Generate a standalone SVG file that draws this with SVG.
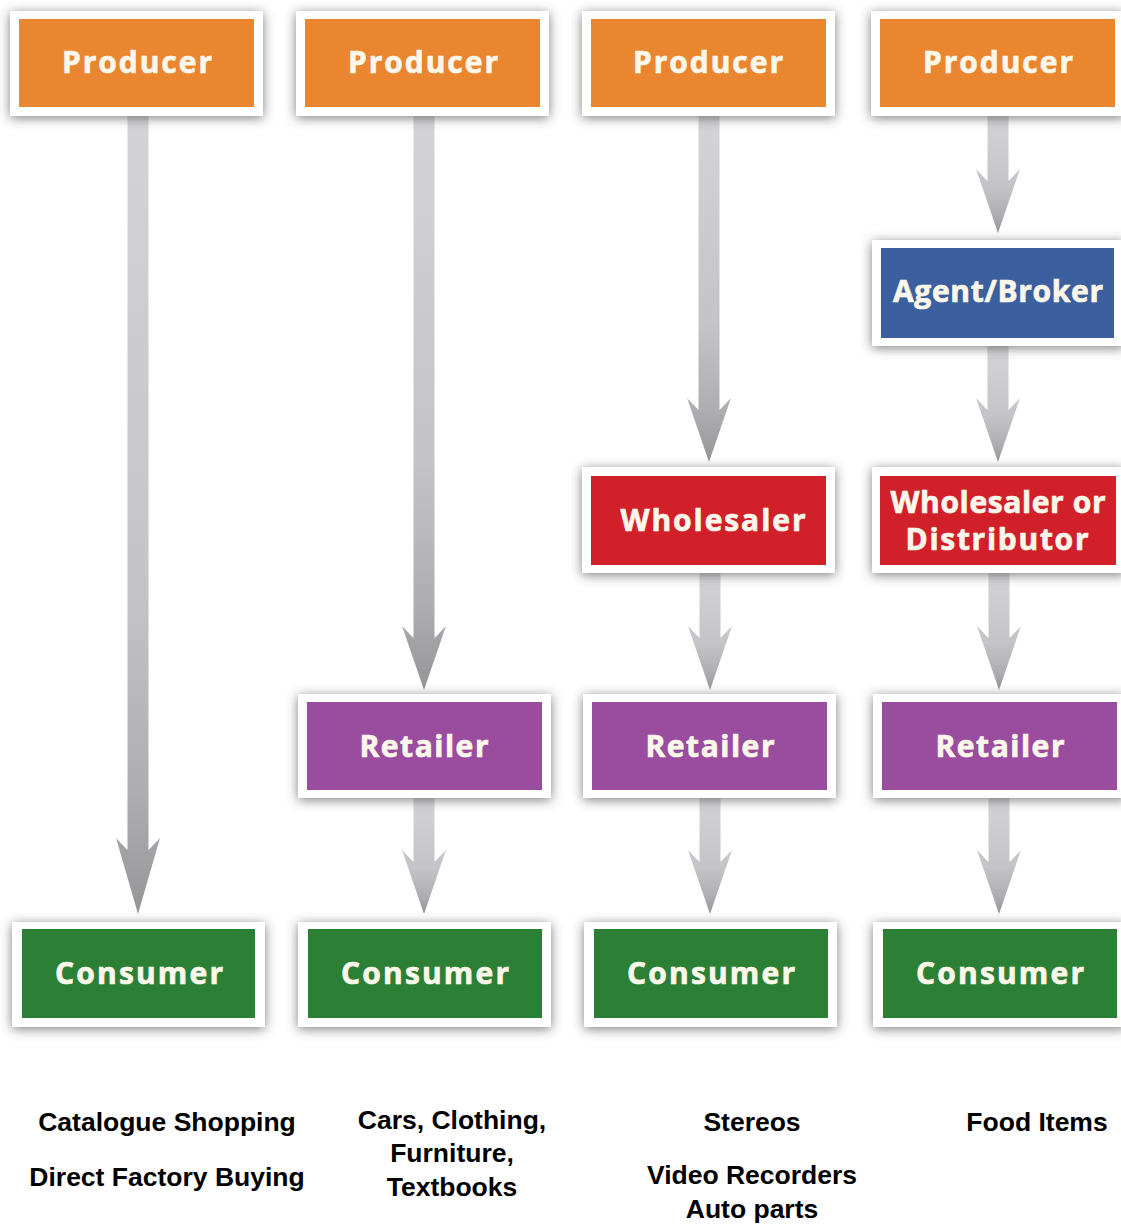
<svg xmlns="http://www.w3.org/2000/svg" width="1121" height="1228" viewBox="0 0 1121 1228">
<style>
.frame{fill:#ffffff;filter:url(#sh);}
.lbl{font-family:"Open Sans","Noto Sans","Liberation Sans",sans-serif;font-weight:bold;font-size:30px;fill:#FBF7EA;stroke:#FBF7EA;stroke-width:0.7px;text-anchor:middle;}
.note{font-family:"Liberation Sans",Arial,sans-serif;font-weight:bold;font-size:26.5px;fill:#000;text-anchor:middle;}
.arr{fill:url(#ag);}
.prod{fill:#EA8530;}
.agent{fill:#3B5F9F;}
.whole{fill:#D2202A;}
.ret{fill:#9A4D9F;}
.cons{fill:#2B8035;}
</style>
<defs>
<filter id="sh" x="-10%" y="-25%" width="120%" height="150%">
<feDropShadow dx="0" dy="2" stdDeviation="6" flood-color="#454545" flood-opacity="0.7"/>
</filter>
<linearGradient id="ag" x1="0" y1="0" x2="0" y2="1">
<stop offset="0" stop-color="#d4d4d8"/>
<stop offset="0.6" stop-color="#c4c4c8"/>
<stop offset="0.85" stop-color="#aeaeb2"/>
<stop offset="1" stop-color="#959598"/>
</linearGradient>
</defs>
<rect width="1121" height="1228" fill="#ffffff"/>
<g id="connectors">
<path class="arr" d="M127.5 116 V850 L116 838 L138 914 L160 838 L148.5 850 V116 Z"/>
<path class="arr" d="M413.5 116 V638 L402 626 L424 690 L446 626 L434.5 638 V116 Z"/>
<path class="arr" d="M413.5 798 V862 L402 850 L424 914 L446 850 L434.5 862 V798 Z"/>
<path class="arr" d="M698.5 116 V410 L687 398 L709 462 L731 398 L719.5 410 V116 Z"/>
<path class="arr" d="M699.5 573 V638 L688 626 L710 690 L732 626 L720.5 638 V573 Z"/>
<path class="arr" d="M699.5 798 V862 L688 850 L710 914 L732 850 L720.5 862 V798 Z"/>
<path class="arr" d="M987.5 116 V181 L976 169 L998 233 L1020 169 L1008.5 181 V116 Z"/>
<path class="arr" d="M987.5 346 V410 L976 398 L998 462 L1020 398 L1008.5 410 V346 Z"/>
<path class="arr" d="M988.5 573 V638 L977 626 L999 690 L1021 626 L1009.5 638 V573 Z"/>
<path class="arr" d="M988.5 798 V862 L977 850 L999 914 L1021 850 L1009.5 862 V798 Z"/>
</g>
<g id="producer1"><rect class="frame" x="10" y="11" width="253" height="105"/><rect class="prod" x="19" y="19" width="235" height="88"/><text class="lbl" x="137" y="73" textLength="150" lengthAdjust="spacing">Producer</text></g>
<g id="producer2"><rect class="frame" x="296" y="11" width="253" height="105"/><rect class="prod" x="305" y="19" width="235" height="88"/><text class="lbl" x="423" y="73" textLength="150" lengthAdjust="spacing">Producer</text></g>
<g id="producer3"><rect class="frame" x="582" y="11" width="253" height="105"/><rect class="prod" x="591" y="19" width="235" height="88"/><text class="lbl" x="708" y="73" textLength="150" lengthAdjust="spacing">Producer</text></g>
<g id="producer4"><rect class="frame" x="871" y="11" width="253" height="105"/><rect class="prod" x="880" y="19" width="235" height="88"/><text class="lbl" x="998" y="73" textLength="150" lengthAdjust="spacing">Producer</text></g>
<g id="agent4"><rect class="frame" x="872" y="240" width="253" height="106"/><rect class="agent" x="881" y="248" width="233" height="90"/><text class="lbl" x="998" y="302" textLength="210" lengthAdjust="spacing">Agent/Broker</text></g>
<g id="wholesaler3"><rect class="frame" x="582" y="467" width="253" height="106"/><rect class="whole" x="591" y="476" width="235" height="89"/><text class="lbl" x="713" y="531" textLength="185" lengthAdjust="spacing">Wholesaler</text></g>
<g id="wholesaler4"><rect class="frame" x="872" y="467" width="253" height="106"/><rect class="whole" x="880" y="476" width="236" height="89"/><text class="lbl" x="998" y="513" textLength="215" lengthAdjust="spacing">Wholesaler or</text><text class="lbl" x="997" y="550" textLength="183" lengthAdjust="spacing">Distributor</text></g>
<g id="retailer2"><rect class="frame" x="298" y="694" width="253" height="104"/><rect class="ret" x="307" y="702" width="235" height="88"/><text class="lbl" x="424" y="757" textLength="129" lengthAdjust="spacing">Retailer</text></g>
<g id="retailer3"><rect class="frame" x="583" y="694" width="253" height="104"/><rect class="ret" x="592" y="702" width="235" height="88"/><text class="lbl" x="710" y="757" textLength="129" lengthAdjust="spacing">Retailer</text></g>
<g id="retailer4"><rect class="frame" x="873" y="694" width="253" height="104"/><rect class="ret" x="882" y="702" width="235" height="88"/><text class="lbl" x="1000" y="757" textLength="129" lengthAdjust="spacing">Retailer</text></g>
<g id="consumer1"><rect class="frame" x="12" y="922" width="253" height="105"/><rect class="cons" x="22" y="929" width="233" height="89"/><text class="lbl" x="139" y="984" textLength="168" lengthAdjust="spacing">Consumer</text></g>
<g id="consumer2"><rect class="frame" x="298" y="922" width="253" height="105"/><rect class="cons" x="308" y="929" width="234" height="89"/><text class="lbl" x="425" y="984" textLength="168" lengthAdjust="spacing">Consumer</text></g>
<g id="consumer3"><rect class="frame" x="584" y="922" width="253" height="105"/><rect class="cons" x="594" y="929" width="234" height="89"/><text class="lbl" x="711" y="984" textLength="168" lengthAdjust="spacing">Consumer</text></g>
<g id="consumer4"><rect class="frame" x="873" y="922" width="253" height="105"/><rect class="cons" x="883" y="929" width="234" height="89"/><text class="lbl" x="1000" y="984" textLength="168" lengthAdjust="spacing">Consumer</text></g>
<g id="notes">
<text class="note" x="167" y="1131">Catalogue Shopping</text>
<text class="note" x="167" y="1186">Direct Factory Buying</text>
<text class="note" x="452" y="1129">Cars, Clothing,</text>
<text class="note" x="452" y="1162">Furniture,</text>
<text class="note" x="452" y="1196">Textbooks</text>
<text class="note" x="752" y="1131">Stereos</text>
<text class="note" x="752" y="1184">Video Recorders</text>
<text class="note" x="752" y="1218">Auto parts</text>
<text class="note" x="1037" y="1131">Food Items</text>
</g>
</svg>
